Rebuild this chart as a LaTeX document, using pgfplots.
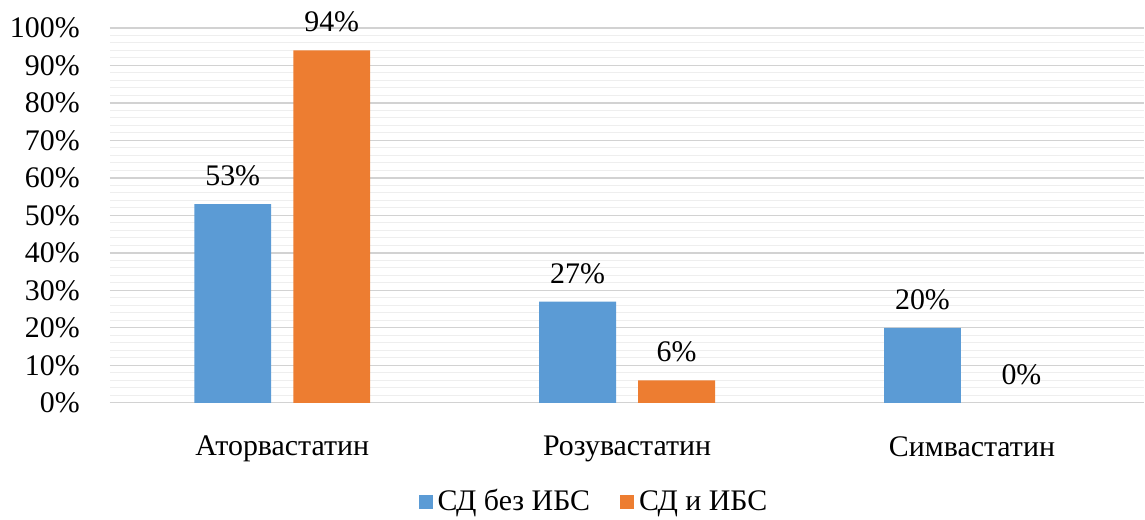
\documentclass[border=0pt]{standalone}
\usepackage{fontspec}
\setmainfont{Liberation Serif}
\usepackage{pgfplots}
\pgfplotsset{compat=1.18}
\definecolor{cblue}{HTML}{5B9BD5}
\definecolor{corange}{HTML}{ED7D31}
\begin{document}
\fontsize{30}{36}\selectfont
\begin{tikzpicture}[x=1bp,y=1bp]
\begin{axis}[
  name=main,
  scale only axis,
  width=1035bp, height=375bp,
  xmin=-0.5, xmax=2.5,
  ymin=0, ymax=100,
  xtick={0,1,2},
  xticklabels={Аторвастатин,Розувастатин,Симвастатин},
  ytick={0,10,...,100},
  minor y tick num=4,
  yticklabel={\pgfmathprintnumber{\tick}\%},
  /pgf/number format/assume math mode=true,
  axis line style={draw=none},
  tick style={draw=none},
  major grid style={draw=gray!35, line width=1.2pt},
  minor grid style={draw=gray!13, line width=1pt},
  ymajorgrids, yminorgrids,
  ybar, bar width=0.223,
  xticklabel style={yshift=-19bp},
  yticklabel style={xshift=-20bp},
  nodes near coords={\pgfmathprintnumber{\pgfplotspointmeta}\%},
  nodes near coords style={font=\fontsize{30}{36}\selectfont, yshift=8bp},
  legend style={at={(0.468,-0.22)}, anchor=north, draw=none, legend columns=2,
    font=\fontsize{30}{36}\selectfont, /tikz/every even column/.append style={column sep=28bp}},
  legend image code/.code={\fill[#1] (0bp,-7bp) rectangle (14bp,7bp); \path (17bp,0bp);},
  clip=false,
]
\addplot[fill=cblue, draw=none, bar shift=-0.1435] coordinates {(0,53) (1,27) (2,20)};
\addplot[fill=corange, draw=none, bar shift=0.1435] coordinates {(0,94) (1,6)};
\addplot[fill=none, draw=none, bar shift=0.1435, forget plot] coordinates {(2,0)};
\legend{СД без ИБС, СД и ИБС}
\end{axis}
\path ([yshift=28bp]main.north);
\end{tikzpicture}
\end{document}
